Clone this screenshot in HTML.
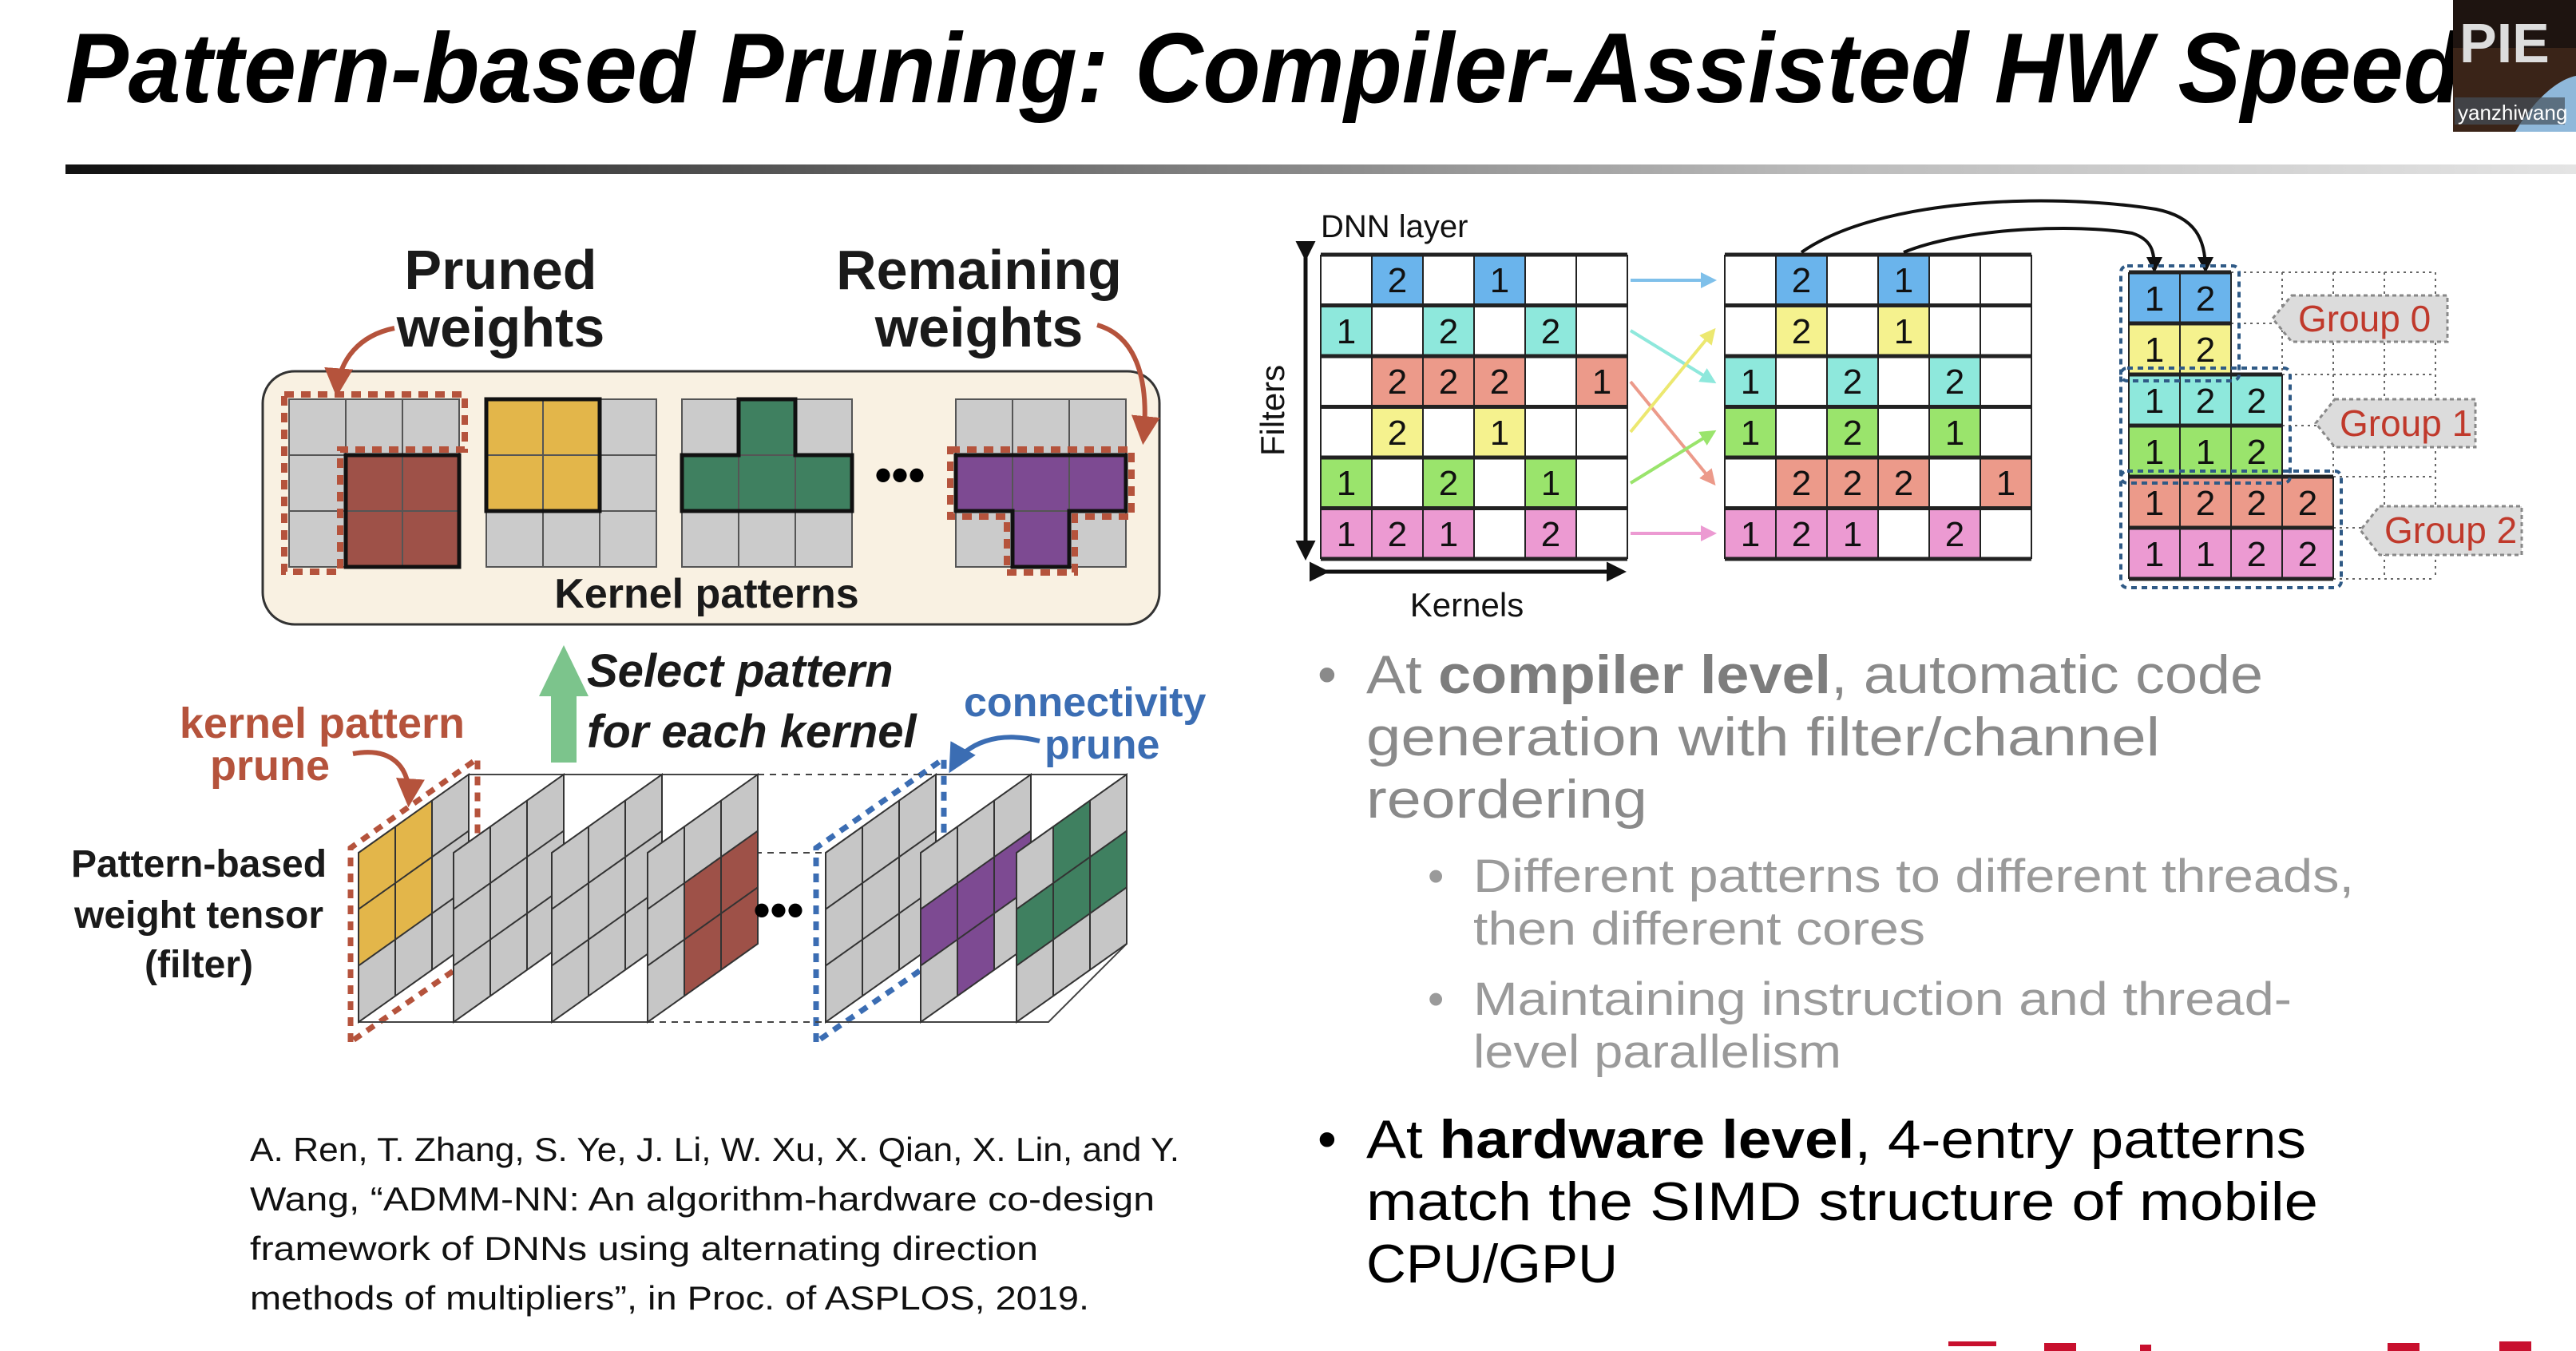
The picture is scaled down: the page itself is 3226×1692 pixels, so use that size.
<!DOCTYPE html>
<html><head><meta charset="utf-8"><style>
html,body{margin:0;padding:0;background:#fff;overflow:hidden}
svg{display:block}
text{font-family:"Liberation Sans",Arial,sans-serif}
.num{font-family:"Liberation Serif",serif;font-size:44px;text-anchor:middle;fill:#111}
</style></head><body>
<svg width="3226" height="1692" viewBox="0 0 3226 1692" xmlns="http://www.w3.org/2000/svg">
<defs>
<linearGradient id="bar" x1="0" x2="1"><stop offset="0" stop-color="#111"/><stop offset="0.35" stop-color="#666"/><stop offset="0.7" stop-color="#bbb"/><stop offset="1" stop-color="#e4e4e4"/></linearGradient>
<marker id="ar" viewBox="0 0 10 10" refX="8" refY="5" markerWidth="6" markerHeight="6" orient="auto"><path d="M0,0L10,5L0,10z" fill="#b5533c"/></marker>
<marker id="ab" viewBox="0 0 10 10" refX="8" refY="5" markerWidth="6" markerHeight="6" orient="auto"><path d="M0,0L10,5L0,10z" fill="#3b6db3"/></marker>
<marker id="ak" viewBox="0 0 10 10" refX="8" refY="5" markerWidth="5" markerHeight="5" orient="auto"><path d="M0,0L10,5L0,10z" fill="#111"/></marker>
<marker id="m1" viewBox="0 0 10 10" refX="8" refY="5" markerWidth="5" markerHeight="5" orient="auto"><path d="M0,0L10,5L0,10z" fill="#7fc0ea"/></marker>
<marker id="m2" viewBox="0 0 10 10" refX="8" refY="5" markerWidth="5" markerHeight="5" orient="auto"><path d="M0,0L10,5L0,10z" fill="#8ee8dc"/></marker>
<marker id="m3" viewBox="0 0 10 10" refX="8" refY="5" markerWidth="5" markerHeight="5" orient="auto"><path d="M0,0L10,5L0,10z" fill="#ec9a8a"/></marker>
<marker id="m4" viewBox="0 0 10 10" refX="8" refY="5" markerWidth="5" markerHeight="5" orient="auto"><path d="M0,0L10,5L0,10z" fill="#ece870"/></marker>
<marker id="m5" viewBox="0 0 10 10" refX="8" refY="5" markerWidth="5" markerHeight="5" orient="auto"><path d="M0,0L10,5L0,10z" fill="#9ae46c"/></marker>
<marker id="m6" viewBox="0 0 10 10" refX="8" refY="5" markerWidth="5" markerHeight="5" orient="auto"><path d="M0,0L10,5L0,10z" fill="#ec9ad2"/></marker>
<g id="panel">
<rect x="0" y="0" width="3" height="3" fill="#c6c6c6"/>
</g>
<g id="pgrid" fill="none" stroke="#333" stroke-width="2" vector-effect="non-scaling-stroke">
<path d="M0,0H3V3H0Z M1,0V3 M2,0V3 M0,1H3 M0,2H3" vector-effect="non-scaling-stroke"/>
</g>
</defs>

<text x="82" y="128" font-size="124" font-weight="bold" font-style="italic" textLength="3000" lengthAdjust="spacingAndGlyphs" fill="#000">Pattern-based Pruning: Compiler-Assisted HW Speed</text>
<rect x="82" y="206" width="3144" height="12" fill="url(#bar)"/>

<rect x="3072" y="0" width="154" height="165" fill="#1e1410"/>
<rect x="3072" y="60" width="154" height="105" fill="#3a2418"/>
<path d="M3150,165 C3170,130 3200,100 3226,95 V165Z" fill="#8fb8da"/>
<text x="3080" y="78" font-size="70" fill="#ddd" font-weight="bold">PIE</text>
<rect x="3074" y="122" width="138" height="34" fill="#44505a" opacity="0.7"/>
<text x="3078" y="150" font-size="26" fill="#fff">yanzhiwang</text>

<g font-weight="bold" font-size="70" text-anchor="middle" fill="#1a1a1a">
<text x="627" y="362">Pruned</text><text x="627" y="434">weights</text>
<text x="1226" y="362">Remaining</text><text x="1226" y="434">weights</text>
</g>
<rect x="329" y="465" width="1123" height="317" rx="40" fill="#f9f1e2" stroke="#333" stroke-width="3"/>
<path d="M494,411 C450,420 425,450 422,490" fill="none" stroke="#b5533c" stroke-width="6" marker-end="url(#ar)"/>
<path d="M1374,407 C1420,420 1440,470 1432,550" fill="none" stroke="#b5533c" stroke-width="6" marker-end="url(#ar)"/>

<g stroke="#555" stroke-width="2">
<g fill="#cbcbcb">
<rect x="362" y="500" width="213" height="210"/>
<rect x="609" y="500" width="213" height="210"/>
<rect x="854" y="500" width="213" height="210"/>
<rect x="1197" y="500" width="213" height="210"/>
</g>
<rect x="433" y="570" width="142" height="140" fill="#9e5148"/>
<rect x="609" y="500" width="142" height="140" fill="#e3b64a"/>
<path d="M925,500H996V570H1067V640H854V570H925Z" fill="#3f8060"/>
<path d="M1197,570H1410V640H1339V710H1268V640H1197Z" fill="#7d4a92"/>
<path d="M433,500V710M504,500V710M362,570H575M362,640H575 M680,500V710M751,500V710M609,570H822M609,640H822 M925,500V710M996,500V710M854,570H1067M854,640H1067 M1268,500V710M1339,500V710M1197,570H1410M1197,640H1410" fill="none"/>
</g>
<g fill="none" stroke="#111" stroke-width="5">
<rect x="433" y="570" width="142" height="140"/>
<rect x="609" y="500" width="142" height="140"/>
<path d="M925,500H996V570H1067V640H854V570H925Z"/>
<path d="M1197,570H1410V640H1339V710H1268V640H1197Z"/>
</g>
<g fill="none" stroke="#b5533c" stroke-width="8" stroke-dasharray="12 9">
<path d="M356,494H582V563H426V716H356Z"/>
<path d="M1190,563H1417V647H1346V717H1261V647H1190Z"/>
</g>
<text x="1127" y="615" font-size="60" font-weight="bold" text-anchor="middle">•••</text>
<text x="885" y="761" font-size="52" font-weight="bold" text-anchor="middle" fill="#1a1a1a">Kernel patterns</text>

<path d="M706,808L737,872H722V955H690V872H675Z" fill="#7cc48c"/>
<g font-weight="bold" font-style="italic" font-size="58" fill="#1a1a1a">
<text x="735" y="860">Select pattern</text>
<text x="735" y="936">for each kernel</text>
</g>
<g font-weight="bold" font-size="54" fill="#b5533c">
<text x="582" y="924" text-anchor="end">kernel pattern</text>
<text x="263" y="977">prune</text>
</g>
<path d="M442,944 C490,935 515,960 512,1004" fill="none" stroke="#b5533c" stroke-width="6" marker-end="url(#ar)"/>
<g font-weight="bold" font-size="52" fill="#3b6db3">
<text x="1207" y="897">connectivity</text>
<text x="1308" y="950">prune</text>
</g>
<path d="M1302,928 C1250,915 1210,930 1192,962" fill="none" stroke="#3b6db3" stroke-width="6" marker-end="url(#ab)"/>
<g font-weight="bold" font-size="48" text-anchor="middle" fill="#1a1a1a">
<text x="249" y="1098">Pattern-based</text>
<text x="249" y="1162">weight tensor</text>
<text x="249" y="1224">(filter)</text>
</g>

<g fill="none" stroke="#b5533c" stroke-width="7" stroke-dasharray="11 9">
<path d="M439,1305V1062L598,950V1195Z"/>
</g>
<g fill="none" stroke="#3b6db3" stroke-width="7" stroke-dasharray="11 9">
<path d="M1022,1305V1062L1182,950V1195Z"/>
</g>
<g stroke="#444" stroke-width="2" fill="none">
<path d="M587,970H949M449,1280H811M449,1068H811"/>
<path d="M949,970H1172M811,1280H1034M811,1068H1034" stroke-dasharray="8 7"/>
<path d="M1172,970H1411V1182L1313,1280H1034M1034,1068H1313"/>
</g>
<g transform="matrix(46,-32.7,0,70.7,449,1068)"><use href="#panel"/><rect x="0" y="0" width="2" height="2" fill="#e3b64a"/><use href="#pgrid"/></g>
<g transform="matrix(46,-32.7,0,70.7,568,1068)"><use href="#panel"/><use href="#pgrid"/></g>
<g transform="matrix(46,-32.7,0,70.7,691,1068)"><use href="#panel"/><use href="#pgrid"/></g>
<g transform="matrix(46,-32.7,0,70.7,811,1068)"><use href="#panel"/><rect x="1" y="1" width="2" height="2" fill="#9e5148"/><use href="#pgrid"/></g>
<text x="975" y="1160" font-size="60" font-weight="bold" text-anchor="middle">•••</text>
<g transform="matrix(46,-32.7,0,70.7,1034,1068)"><use href="#panel"/><use href="#pgrid"/></g>
<g transform="matrix(46,-32.7,0,70.7,1153,1068)"><use href="#panel"/><rect x="0" y="1" width="3" height="1" fill="#7d4a92"/><rect x="1" y="2" width="1" height="1" fill="#7d4a92"/><use href="#pgrid"/></g>
<g transform="matrix(46,-32.7,0,70.7,1273,1068)"><use href="#panel"/><rect x="0" y="1" width="3" height="1" fill="#3f8060"/><rect x="1" y="0" width="1" height="1" fill="#3f8060"/><use href="#pgrid"/></g>

<g font-size="42" fill="#111">
<text x="313" y="1454" textLength="1164" lengthAdjust="spacingAndGlyphs">A. Ren, T. Zhang, S. Ye, J. Li, W. Xu, X. Qian, X. Lin, and Y.</text>
<text x="313" y="1516" textLength="1133" lengthAdjust="spacingAndGlyphs">Wang, “ADMM-NN: An algorithm-hardware co-design</text>
<text x="313" y="1578" textLength="987" lengthAdjust="spacingAndGlyphs">framework of DNNs using alternating direction</text>
<text x="313" y="1640" textLength="1051" lengthAdjust="spacingAndGlyphs">methods of multipliers”, in Proc. of ASPLOS, 2019.</text>
</g>

<text x="1654" y="297" font-size="40" fill="#111">DNN layer</text>
<path d="M1635,322V697" stroke="#111" stroke-width="5" marker-start="url(#ak)" marker-end="url(#ak)"/>
<text transform="translate(1608,514) rotate(-90)" font-size="42" text-anchor="middle" fill="#111">Filters</text>
<path d="M1660,716H2032" stroke="#111" stroke-width="5" marker-start="url(#ak)" marker-end="url(#ak)"/>
<text x="1837" y="772" font-size="42" text-anchor="middle" fill="#111">Kernels</text>

<g>
<rect x="1718" y="319" width="64" height="63.5" fill="#6ab4ec"/><rect x="1846" y="319" width="64" height="63.5" fill="#6ab4ec"/>
<rect x="1654" y="382.5" width="64" height="63.5" fill="#8ee8dc"/><rect x="1782" y="382.5" width="64" height="63.5" fill="#8ee8dc"/><rect x="1910" y="382.5" width="64" height="63.5" fill="#8ee8dc"/>
<rect x="1718" y="446" width="192" height="63.5" fill="#ec9a8a"/><rect x="1974" y="446" width="64" height="63.5" fill="#ec9a8a"/>
<rect x="1718" y="509.5" width="64" height="63.5" fill="#f5f28e"/><rect x="1846" y="509.5" width="64" height="63.5" fill="#f5f28e"/>
<rect x="1654" y="573" width="64" height="63.5" fill="#9ae46c"/><rect x="1782" y="573" width="64" height="63.5" fill="#9ae46c"/><rect x="1910" y="573" width="64" height="63.5" fill="#9ae46c"/>
<rect x="1654" y="636.5" width="192" height="63.5" fill="#ec9ad2"/><rect x="1910" y="636.5" width="64" height="63.5" fill="#ec9ad2"/>
</g>
<g class="num">
<text x="1750" y="366">2</text><text x="1878" y="366">1</text>
<text x="1686" y="430">1</text><text x="1814" y="430">2</text><text x="1942" y="430">2</text>
<text x="1750" y="493">2</text><text x="1814" y="493">2</text><text x="1878" y="493">2</text><text x="2006" y="493">1</text>
<text x="1750" y="557">2</text><text x="1878" y="557">1</text>
<text x="1686" y="620">1</text><text x="1814" y="620">2</text><text x="1942" y="620">1</text>
<text x="1686" y="684">1</text><text x="1750" y="684">2</text><text x="1814" y="684">1</text><text x="1942" y="684">2</text>
</g>
<g fill="none" stroke="#222">
<path d="M1718,319V700M1782,319V700M1846,319V700M1910,319V700M1974,319V700M1654,319V700M2038,319V700" stroke-width="2"/>
<path d="M1654,319H2038M1654,382.5H2038M1654,446H2038M1654,509.5H2038M1654,573H2038M1654,636.5H2038M1654,700H2038" stroke-width="5"/>
</g>

<g>
<rect x="2224" y="319" width="64" height="63.5" fill="#6ab4ec"/><rect x="2352" y="319" width="64" height="63.5" fill="#6ab4ec"/>
<rect x="2224" y="382.5" width="64" height="63.5" fill="#f5f28e"/><rect x="2352" y="382.5" width="64" height="63.5" fill="#f5f28e"/>
<rect x="2160" y="446" width="64" height="63.5" fill="#8ee8dc"/><rect x="2288" y="446" width="64" height="63.5" fill="#8ee8dc"/><rect x="2416" y="446" width="64" height="63.5" fill="#8ee8dc"/>
<rect x="2160" y="509.5" width="64" height="63.5" fill="#9ae46c"/><rect x="2288" y="509.5" width="64" height="63.5" fill="#9ae46c"/><rect x="2416" y="509.5" width="64" height="63.5" fill="#9ae46c"/>
<rect x="2224" y="573" width="192" height="63.5" fill="#ec9a8a"/><rect x="2480" y="573" width="64" height="63.5" fill="#ec9a8a"/>
<rect x="2160" y="636.5" width="192" height="63.5" fill="#ec9ad2"/><rect x="2416" y="636.5" width="64" height="63.5" fill="#ec9ad2"/>
</g>
<g class="num">
<text x="2256" y="366">2</text><text x="2384" y="366">1</text>
<text x="2256" y="430">2</text><text x="2384" y="430">1</text>
<text x="2192" y="493">1</text><text x="2320" y="493">2</text><text x="2448" y="493">2</text>
<text x="2192" y="557">1</text><text x="2320" y="557">2</text><text x="2448" y="557">1</text>
<text x="2256" y="620">2</text><text x="2320" y="620">2</text><text x="2384" y="620">2</text><text x="2512" y="620">1</text>
<text x="2192" y="684">1</text><text x="2256" y="684">2</text><text x="2320" y="684">1</text><text x="2448" y="684">2</text>
</g>
<g fill="none" stroke="#222">
<path d="M2160,319V700M2224,319V700M2288,319V700M2352,319V700M2416,319V700M2480,319V700M2544,319V700" stroke-width="2"/>
<path d="M2160,319H2544M2160,382.5H2544M2160,446H2544M2160,509.5H2544M2160,573H2544M2160,636.5H2544M2160,700H2544" stroke-width="5"/>
</g>

<g fill="none" stroke-width="4">
<path d="M2042,351H2146" stroke="#7fc0ea" marker-end="url(#m1)"/>
<path d="M2042,414L2146,478" stroke="#8ee8dc" marker-end="url(#m2)"/>
<path d="M2042,478L2146,605" stroke="#ec9a8a" marker-end="url(#m3)"/>
<path d="M2042,541L2146,414" stroke="#ece870" marker-end="url(#m4)"/>
<path d="M2042,605L2146,541" stroke="#9ae46c" marker-end="url(#m5)"/>
<path d="M2042,668H2146" stroke="#ec9ad2" marker-end="url(#m6)"/>
</g>
<path d="M2256,316 C2350,250 2560,240 2700,262 C2750,272 2762,300 2762,338" fill="none" stroke="#111" stroke-width="4" marker-end="url(#ak)"/>
<path d="M2384,316 C2460,285 2600,280 2670,292 C2695,300 2698,315 2698,338" fill="none" stroke="#111" stroke-width="4" marker-end="url(#ak)"/>

<g fill="none" stroke="#666" stroke-width="2" stroke-dasharray="3 5">
<path d="M2858,341V725M2922,341V725M2986,341V725M3050,341V725M2794,341V725"/>
<path d="M2730,341H3050M2730,405H3050M2794,469H3050M2858,533H3050M2922,597H3050M2922,661H3050M2922,725H3050"/>
</g>
<g>
<rect x="2666" y="341" width="128" height="64" fill="#6ab4ec"/>
<rect x="2666" y="405" width="128" height="64" fill="#f5f28e"/>
<rect x="2666" y="469" width="192" height="64" fill="#8ee8dc"/>
<rect x="2666" y="533" width="192" height="64" fill="#9ae46c"/>
<rect x="2666" y="597" width="256" height="64" fill="#ec9a8a"/>
<rect x="2666" y="661" width="256" height="64" fill="#ec9ad2"/>
</g>
<g class="num">
<text x="2698" y="389">1</text><text x="2762" y="389">2</text>
<text x="2698" y="453">1</text><text x="2762" y="453">2</text>
<text x="2698" y="517">1</text><text x="2762" y="517">2</text><text x="2826" y="517">2</text>
<text x="2698" y="581">1</text><text x="2762" y="581">1</text><text x="2826" y="581">2</text>
<text x="2698" y="645">1</text><text x="2762" y="645">2</text><text x="2826" y="645">2</text><text x="2890" y="645">2</text>
<text x="2698" y="709">1</text><text x="2762" y="709">1</text><text x="2826" y="709">2</text><text x="2890" y="709">2</text>
</g>
<g fill="none" stroke="#222">
<path d="M2666,341V725M2730,341V725M2794,341V469M2794,469V725M2858,469V533M2858,533V725M2922,597V725" stroke-width="2"/>
<path d="M2666,341H2794M2666,405H2794M2666,469H2858M2666,533H2858M2666,597H2922M2666,661H2922M2666,725H2922" stroke-width="5"/>
</g>
<g fill="none" stroke="#2f5a86" stroke-width="4" stroke-dasharray="7 6">
<rect x="2656" y="333" width="148" height="144" rx="8"/>
<rect x="2656" y="461" width="212" height="144" rx="8"/>
<rect x="2656" y="590" width="276" height="146" rx="8"/>
</g>
<g fill="#dcdcdc" stroke="#888" stroke-width="3" stroke-dasharray="5 4">
<path d="M2870,370H3065V428H2870L2846,399Z"/>
<path d="M2924,500H3100V560H2924L2900,530Z"/>
<path d="M2980,634H3158V695H2980L2956,664Z"/>
</g>
<g font-size="46" fill="#c0392b">
<text x="2878" y="415">Group 0</text>
<text x="2930" y="546">Group 1</text>
<text x="2986" y="680">Group 2</text>
</g>

<g font-size="68" fill="#8a8a8a">
<text x="1650" y="868">•</text>
<text x="1711" y="868" textLength="1123" lengthAdjust="spacingAndGlyphs">At <tspan font-weight="bold" fill="#7d7d7d">compiler level</tspan>, automatic code</text>
<text x="1711" y="946" textLength="994" lengthAdjust="spacingAndGlyphs">generation with filter/channel</text>
<text x="1711" y="1024" textLength="352" lengthAdjust="spacingAndGlyphs">reordering</text>
</g>
<g font-size="58" fill="#9a9a9a">
<text x="1788" y="1117">•</text>
<text x="1845" y="1117" textLength="1103" lengthAdjust="spacingAndGlyphs">Different patterns to different threads,</text>
<text x="1845" y="1183" textLength="566" lengthAdjust="spacingAndGlyphs">then different cores</text>
<text x="1788" y="1271">•</text>
<text x="1845" y="1271" textLength="1025" lengthAdjust="spacingAndGlyphs">Maintaining instruction and thread-</text>
<text x="1845" y="1337" textLength="461" lengthAdjust="spacingAndGlyphs">level parallelism</text>
</g>
<g font-size="68" fill="#000">
<text x="1650" y="1450">•</text>
<text x="1711" y="1450" textLength="1177" lengthAdjust="spacingAndGlyphs">At <tspan font-weight="bold">hardware level</tspan>, 4-entry patterns</text>
<text x="1711" y="1528" textLength="1192" lengthAdjust="spacingAndGlyphs">match the SIMD structure of mobile</text>
<text x="1711" y="1606" textLength="315" lengthAdjust="spacingAndGlyphs">CPU/GPU</text>
</g>
<g fill="#c8102e">
<rect x="2440" y="1680" width="60" height="6"/>
<rect x="2560" y="1682" width="40" height="10"/>
<rect x="2680" y="1684" width="14" height="8"/>
<rect x="2990" y="1682" width="40" height="10"/>
<rect x="3130" y="1680" width="40" height="12"/>
</g>
</svg>
</body></html>
